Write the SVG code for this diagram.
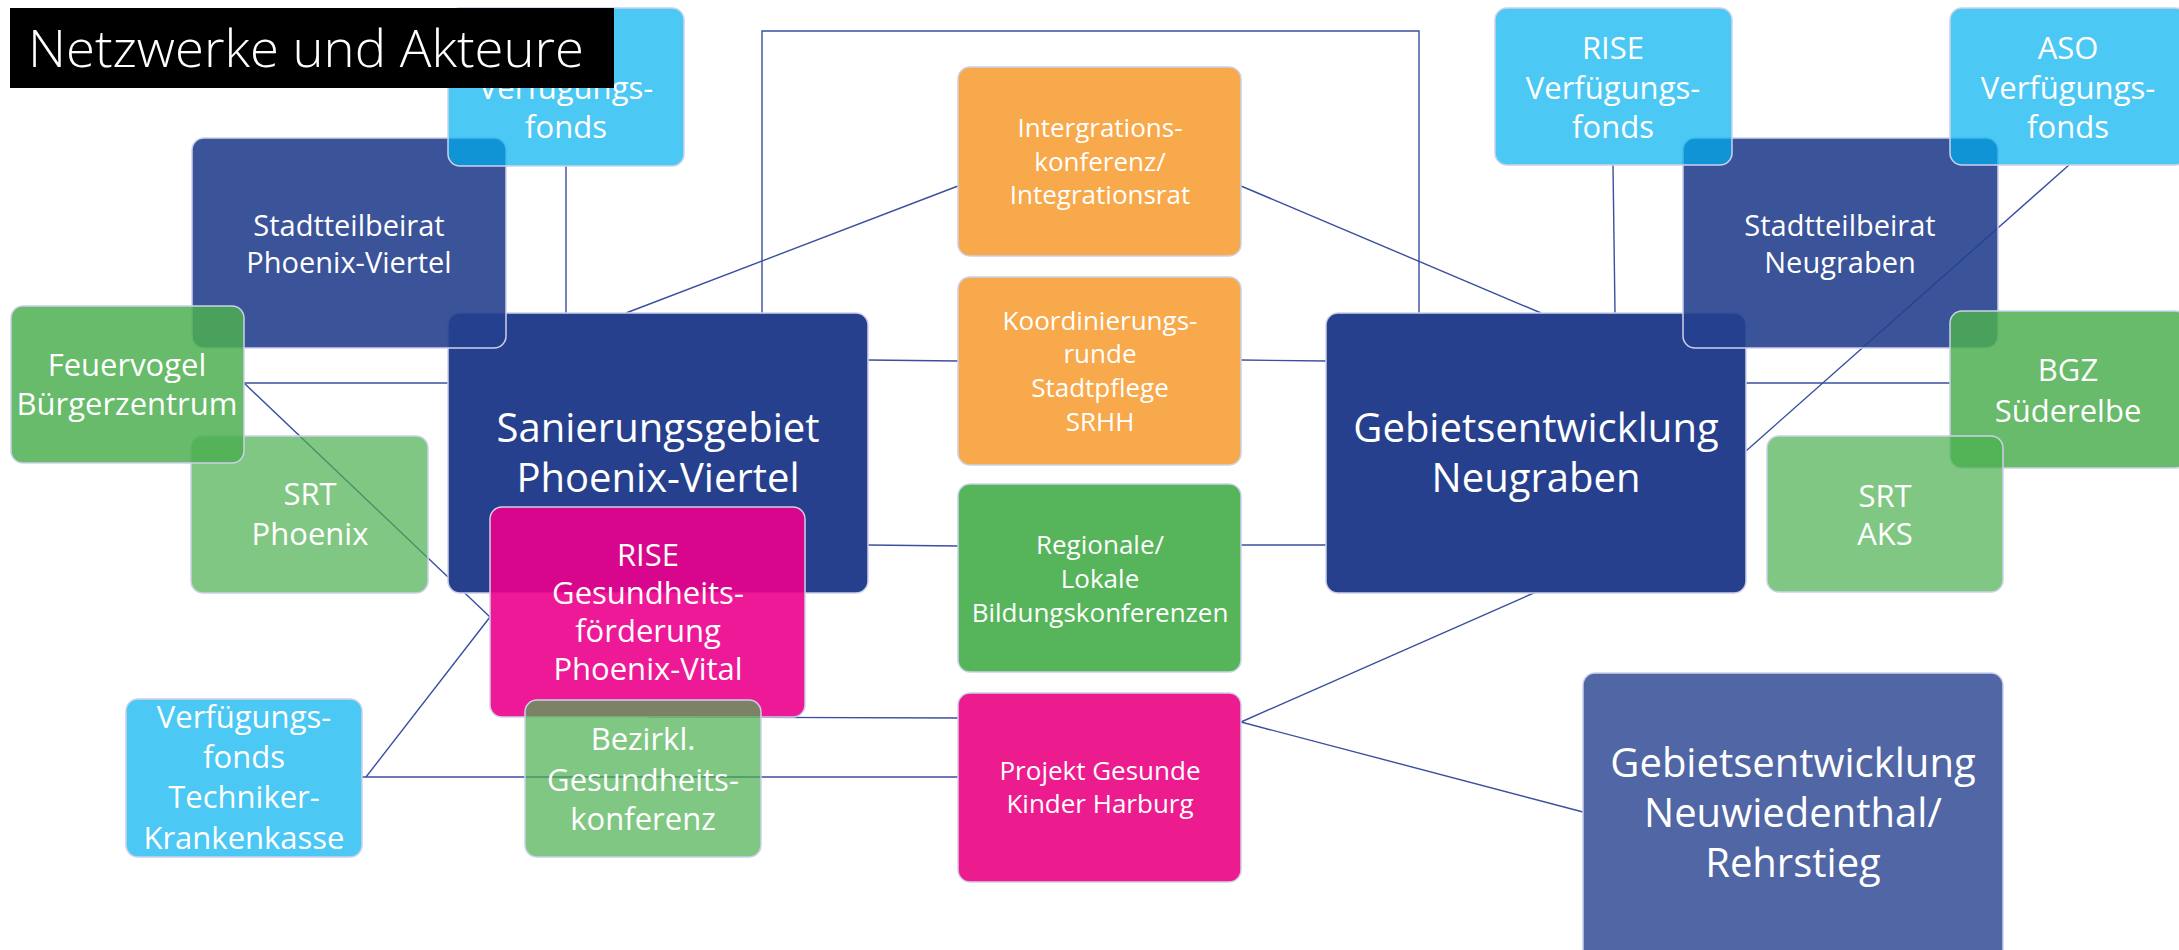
<svg xmlns="http://www.w3.org/2000/svg" width="2179" height="950" viewBox="0 0 2179 950">
<style>
.n{stroke:#cdd1ea;stroke-width:1.5}
.navy{fill:#26408e}
.navy9{fill:#26408e;fill-opacity:.9}
.navy8{fill:#26408e;fill-opacity:.8}
.blue{fill:#00b0f0;fill-opacity:.7}
.g85{fill:#4caf50;fill-opacity:.85}
.g70{fill:#4caf50;fill-opacity:.7}
.gs{fill:#56b45b}
.mag9{fill:#ec008c;fill-opacity:.9}
.mag{fill:#ec1c8e}
.org{fill:#f7a94b}
text{font-family:"Open Sans","Noto Sans","DejaVu Sans",sans-serif;fill:#fff;text-anchor:middle}
.t40{font-size:40px}
.t31{font-size:31px}
.t29{font-size:29px}
.t26{font-size:26px}
.c{fill:none;stroke:#3a4fa0;stroke-width:1.4}
</style>
<rect width="2179" height="950" fill="#fff"/>
<g id="connectors">
<line class="c" x1="566" y1="166" x2="566" y2="313"/>
<polyline class="c" points="762,313 762,31 1419,31 1419,313"/>
<line class="c" x1="626" y1="313" x2="958" y2="186"/>
<line class="c" x1="1241" y1="186" x2="1541" y2="313"/>
<line class="c" x1="868" y1="360" x2="958" y2="361"/>
<line class="c" x1="1241" y1="360" x2="1326" y2="361"/>
<line class="c" x1="868" y1="545" x2="958" y2="546"/>
<line class="c" x1="1241" y1="545" x2="1326" y2="545"/>
<line class="c" x1="244" y1="383" x2="448" y2="383"/>
<line class="c" x1="244" y1="383" x2="490" y2="617"/>
<line class="c" x1="366" y1="777" x2="490" y2="617"/>
<line class="c" x1="362" y1="777" x2="958" y2="777"/>
<line class="c" x1="648" y1="717" x2="958" y2="718"/>
<line class="c" x1="1241" y1="722" x2="1536" y2="592"/>
<line class="c" x1="1241" y1="722" x2="1583" y2="812"/>
<line class="c" x1="1613" y1="165" x2="1615" y2="313"/>
<line class="c" x1="2069" y1="165" x2="1746" y2="451"/>
<line class="c" x1="1746" y1="383" x2="1950" y2="383"/>
</g>
<g id="n-sanierung"><rect class="n navy" x="448" y="313" width="420" height="280" rx="12"/>
<text class="t40" x="658" y="442">Sanierungsgebiet</text><text class="t40" x="658" y="492">Phoenix-Viertel</text></g>
<g id="n-stb-phoenix"><rect class="n navy9" x="192" y="138" width="314" height="210" rx="12"/>
<text class="t29" x="349" y="236">Stadtteilbeirat</text><text class="t29" x="349" y="273">Phoenix-Viertel</text></g>
<g id="n-vf-tl"><rect class="n blue" x="448" y="8" width="236" height="158" rx="12"/>
<text class="t31" x="566" y="99">Verfügungs-</text><text class="t31" x="566" y="138">fonds</text></g>
<g id="n-srt-phoenix"><rect class="n g70" x="191" y="436" width="237" height="157" rx="12"/>
<text class="t31" x="310" y="505">SRT</text><text class="t31" x="310" y="545">Phoenix</text></g>
<g id="n-feuervogel"><rect class="n g85" x="11" y="306" width="233" height="157" rx="12"/>
<text class="t31" x="127" y="376">Feuervogel</text><text class="t31" x="127" y="415">Bürgerzentrum</text></g>
<g id="n-rise-gesund"><rect class="n mag9" x="490" y="507" width="315" height="210" rx="12"/>
<text class="t31" x="648" y="566">RISE</text><text class="t31" x="648" y="604">Gesundheits-</text><text class="t31" x="648" y="642">förderung</text><text class="t31" x="648" y="680">Phoenix-Vital</text></g>
<g id="n-techniker"><rect class="n blue" x="126" y="699" width="236" height="158" rx="12"/>
<text class="t31" x="244" y="728">Verfügungs-</text><text class="t31" x="244" y="768">fonds</text><text class="t31" x="244" y="808">Techniker-</text><text class="t31" x="244" y="849">Krankenkasse</text></g>
<g id="n-bezirkl"><rect class="n g70" x="525" y="700" width="236" height="157" rx="12"/>
<text class="t31" x="643" y="750">Bezirkl.</text><text class="t31" x="643" y="791">Gesundheits-</text><text class="t31" x="643" y="830">konferenz</text></g>
<g id="n-integration"><rect class="n org" x="958" y="67" width="283" height="189" rx="12"/>
<text class="t26" x="1100" y="137">Intergrations-</text><text class="t26" x="1100" y="171">konferenz/</text><text class="t26" x="1100" y="204">Integrationsrat</text></g>
<g id="n-koord"><rect class="n org" x="958" y="277" width="283" height="188" rx="12"/>
<text class="t26" x="1100" y="330">Koordinierungs-</text><text class="t26" x="1100" y="363">runde</text><text class="t26" x="1100" y="397">Stadtpflege</text><text class="t26" x="1100" y="431">SRHH</text></g>
<g id="n-bildung"><rect class="n gs" x="958" y="484" width="283" height="188" rx="12"/>
<text class="t26" x="1100" y="554">Regionale/</text><text class="t26" x="1100" y="588">Lokale</text><text class="t26" x="1100" y="622">Bildungskonferenzen</text></g>
<g id="n-projekt"><rect class="n mag" x="958" y="693" width="283" height="189" rx="12"/>
<text class="t26" x="1100" y="780">Projekt Gesunde</text><text class="t26" x="1100" y="813">Kinder Harburg</text></g>
<g id="n-neugraben"><rect class="n navy" x="1326" y="313" width="420" height="280" rx="12"/>
<text class="t40" x="1536" y="442">Gebietsentwicklung</text><text class="t40" x="1536" y="492">Neugraben</text></g>
<g id="n-stb-neugraben"><rect class="n navy9" x="1683" y="138" width="315" height="210" rx="12"/>
<text class="t29" x="1840" y="236">Stadtteilbeirat</text><text class="t29" x="1840" y="273">Neugraben</text></g>
<g id="n-rise-vf"><rect class="n blue" x="1495" y="8" width="237" height="157" rx="12"/>
<text class="t31" x="1613" y="59">RISE</text><text class="t31" x="1613" y="99">Verfügungs-</text><text class="t31" x="1613" y="138">fonds</text></g>
<g id="n-aso"><rect class="n blue" x="1950" y="8" width="237" height="157" rx="12"/>
<text class="t31" x="2068" y="59">ASO</text><text class="t31" x="2068" y="99">Verfügungs-</text><text class="t31" x="2068" y="138">fonds</text></g>
<g id="n-bgz"><rect class="n g85" x="1950" y="311" width="237" height="157" rx="12"/>
<text class="t31" x="2068" y="381">BGZ</text><text class="t31" x="2068" y="422">Süderelbe</text></g>
<g id="n-srt-aks"><rect class="n g70" x="1767" y="436" width="236" height="156" rx="12"/>
<text class="t31" x="1885" y="507">SRT</text><text class="t31" x="1885" y="545">AKS</text></g>
<g id="n-neuwiedenthal"><rect class="n navy8" x="1583" y="673" width="420" height="300" rx="12"/>
<text class="t40" x="1793" y="777">Gebietsentwicklung</text><text class="t40" x="1793" y="827">Neuwiedenthal/</text><text class="t40" x="1793" y="877">Rehrstieg</text></g>
<g id="title"><rect x="10" y="8" width="604" height="80" fill="#000"/>
<text x="28" y="67" style="font-size:51px;font-weight:300;text-anchor:start" textLength="556" lengthAdjust="spacingAndGlyphs">Netzwerke und Akteure</text></g>
</svg>
